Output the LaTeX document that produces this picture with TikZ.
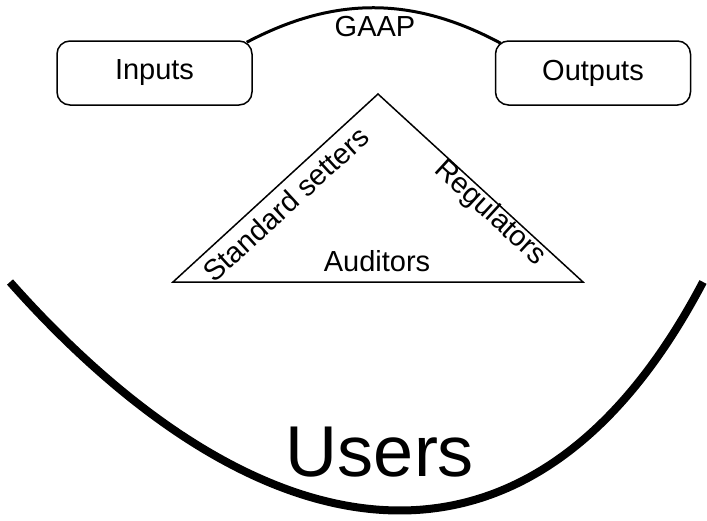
\documentclass[tikz,border=0pt]{standalone}
\usepackage{fontspec}
\setmainfont{Liberation Sans}
\begin{document}
\begin{tikzpicture}[x=1pt,y=-1pt,
  lbl/.style={font=\fontsize{29}{34}\selectfont, inner sep=0pt},
  boxnode/.style={draw, line width=1.5pt, rounded corners=13pt,
    minimum width=195pt, minimum height=64pt, lbl},
  thinline/.style={line width=1.5pt, line join=miter},
  gaapline/.style={line width=3pt},
  userline/.style={line width=8pt}]
\useasboundingbox (0,0) rectangle (707,520);

% framework linking inputs to outputs
\node[boxnode] (inp) at (154.5,73) {Inputs};
\node[boxnode] (out) at (593,73) {Outputs};
\draw[gaapline] ([xshift=-6pt,yshift=-2pt]inp.north east)
  to[bend left=28] ([xshift=6pt,yshift=-3pt]out.north west);
\node[lbl] (gaap) at (375,27) {GAAP};

% triangle of institutions
\coordinate (apex) at (378,94);
\coordinate (bl) at (173,282);
\coordinate (br) at (583,282);
\draw[thinline] (bl) -- (apex) -- (br) -- cycle;
\node[lbl, rotate=42.5] (setters) at (286,204) {Standard setters};
\node[lbl, rotate=-42.5] (regs) at (490,213) {Regulators};
\node[lbl] (aud) at (377,261) {Auditors};

% users underneath everything
\draw[userline] (10,282) .. controls (250,552.5) and (526,619) .. (703,282);
\node[inner sep=0pt, font=\fontsize{72}{80}\selectfont] (users) at (380,452) {Users};
\end{tikzpicture}
\end{document}
